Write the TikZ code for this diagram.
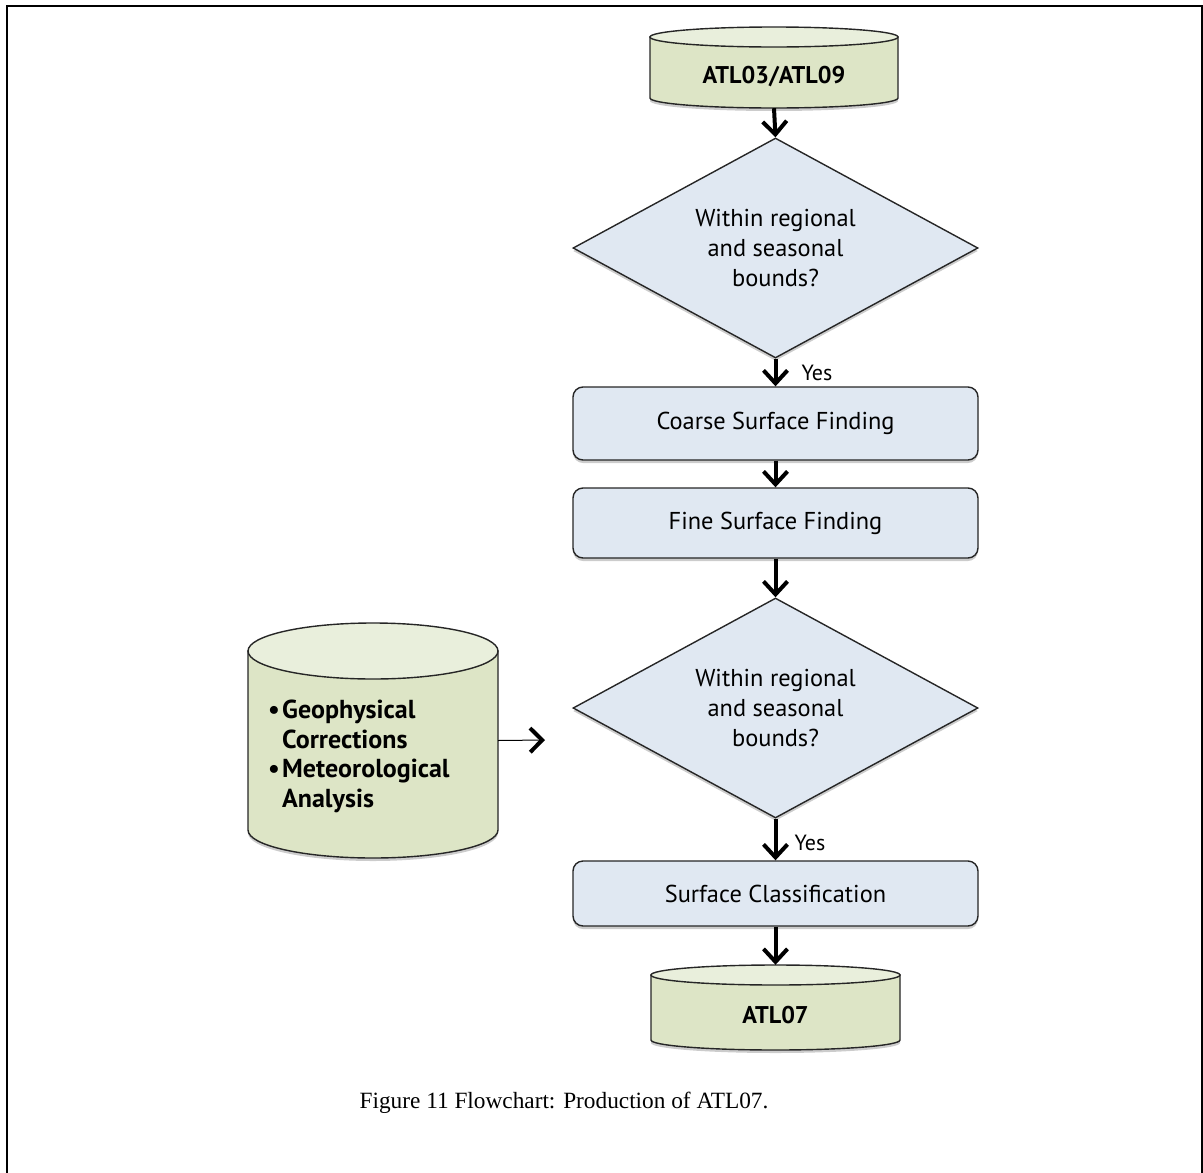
\documentclass[tikz,border=0pt]{standalone}
\usepackage{fontspec}
\setmainfont{Liberation Serif}
\newfontfamily\chartfont{PT Sans}
\usetikzlibrary{shapes.geometric,arrows.meta,shadows,fit}

\definecolor{storefill}{HTML}{DDE5C6}
\definecolor{storetop}{HTML}{E9EFDC}
\definecolor{stepfill}{HTML}{E0E8F2}

\tikzset{
  softshadow/.style={drop shadow={shadow xshift=0pt,shadow yshift=-3pt,opacity=0.2,fill=black}},
  procbox/.style={draw=black!85, line width=1.4pt, fill=stepfill, rounded corners=10pt,
    minimum width=405pt, inner sep=0pt, font=\chartfont\fontsize{24.4}{28}\selectfont, softshadow},
  decision/.style={diamond, draw=black!85, line width=1.4pt, fill=stepfill, aspect=1.84,
    minimum width=405pt, minimum height=220pt, inner sep=0pt, align=center,
    font=\chartfont\fontsize{24.4}{30}\selectfont, softshadow},
  flow/.style={line width=4pt, -{Straight Barb[length=13pt,width=24pt]}},
  sideflow/.style={line width=1pt, -{Straight Barb[length=12pt,width=24pt,line width=4pt]}},
  storebody/.style={fill=storefill, draw=black!85, line width=1.4pt},
  storelid/.style={fill=storetop, draw=black!85, line width=1.4pt},
  storetext/.style={font=\chartfont\bfseries\fontsize{24.2}{29}\selectfont},
  auxtext/.style={font=\chartfont\bfseries\fontsize{26}{29.5}\selectfont},
  yeslabel/.style={font=\chartfont\fontsize{22}{24}\selectfont, anchor=west, inner sep=0pt},
}

% data store drum: name, centre x, lid centre y, base centre y, x radius, y radius
\newcommand\datastore[6]{%
  \path[storebody, softshadow] (#2-#5,#3) -- (#2-#5,#4)
    arc[start angle=180, end angle=360, x radius=#5, y radius=#6] -- (#2+#5,#3) -- cycle;
  \path[storelid] (#2,#3) ellipse[x radius=#5, y radius=#6];
  \node[fit={(#2-#5,#3+#6) (#2+#5,#4-#6)}, inner sep=0pt] (#1) {};
}

\begin{document}
\begin{tikzpicture}[x=1pt,y=1pt]
  \useasboundingbox (0,0) rectangle (1203,-1173);

  % page frame, open at the bottom
  \draw[line width=1.6pt] (6.7,-1173) -- (6.7,-5.8) -- (1201.8,-5.8) -- (1201.8,-1173);

  % data stores
  \datastore{src}{774}{-37}{-98}{124}{10}
  \node[storetext] (srclabel) at (774,-77) {ATL03/ATL09};

  \datastore{aux}{373}{-651}{-830}{125}{28}
  \node[auxtext, anchor=north west, align=left, inner sep=0pt] (auxlabel) at (268,-700)
    {\makebox[14pt][l]{•}Geophysical\\\makebox[14pt]{}Corrections\\
     \makebox[14pt][l]{•}Meteorological\\\makebox[14pt]{}Analysis};

  \datastore{out}{775.5}{-975}{-1040}{124.5}{10}
  \node[storetext] (outlabel) at (775.5,-1015) {ATL07};

  % processing chain
  \node[decision] (bounds1) at (775.5,-248) {Within regional\\and seasonal\\bounds?};
  \node[procbox, minimum height=73pt] (coarse) at (775.5,-423.5) {Coarse Surface Finding};
  \node[procbox, minimum height=70pt] (fine) at (775.5,-523) {Fine Surface Finding};
  \node[decision] (bounds2) at (775.5,-708) {Within regional\\and seasonal\\bounds?};
  \node[procbox, minimum height=65pt] (classify) at (775.5,-893.5) {Surface Classification};

  % connectors
  \draw[flow] (src.south) -- (bounds1.north);
  \draw[flow] (bounds1.south) -- node[yeslabel, xshift=24pt] (yes1) {Yes} (coarse.north);
  \draw[flow] (coarse.south) -- (fine.north);
  \draw[flow] (fine.south) -- (bounds2.north);
  \draw[flow] (bounds2.south) -- node[yeslabel, xshift=17pt, yshift=-3pt] (yes2) {Yes} (classify.north);
  \draw[flow] (classify.south) -- (out.north);

  \coordinate (sidetip) at (545,-740);
  \draw[sideflow] (aux.east) -- (sidetip);

  % caption
  \node[font=\fontsize{23.3}{28}\selectfont] (caption) at (564,-1103)
    {Figure 11 Flowchart: Production of ATL07.};
\end{tikzpicture}
\end{document}
